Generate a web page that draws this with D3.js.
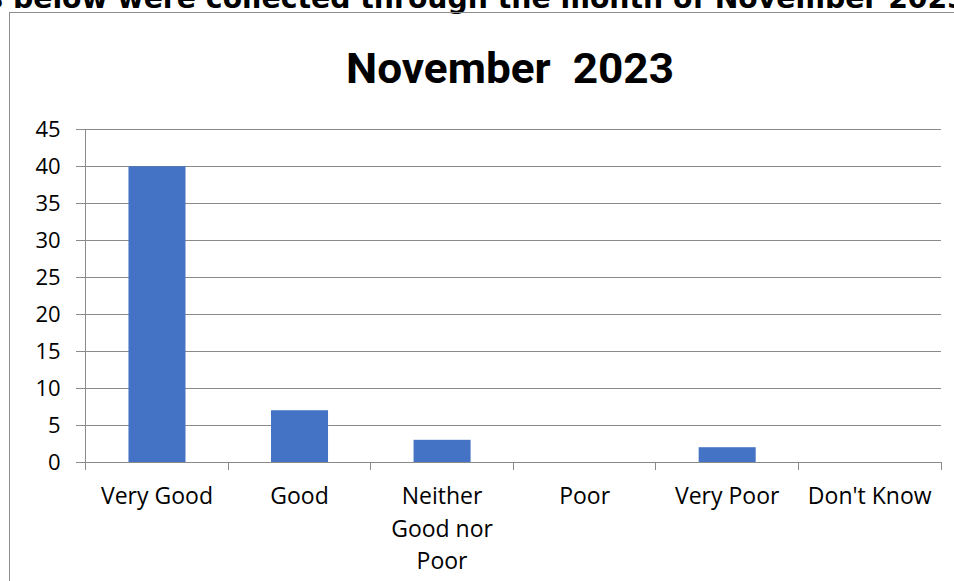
<!DOCTYPE html>
<html>
<head>
<meta charset="utf-8">
<script src="https://cdn.jsdelivr.net/npm/d3@7"></script>
<style>
  body { margin: 0; background: #fff; overflow: hidden; }
</style>
</head>
<body>
<div id="chart-area"></div>
<script>
const WIDTH = 954
const HEIGHT = 581

// data
var categories = ["Very Good", "Good", "Neither Good nor Poor", "Poor", "Very Poor", "Don't Know"]
var responses = [40, 7, 3, 0, 2, 0]
var yTicks = [0, 5, 10, 15, 20, 25, 30, 35, 40, 45]
var chartTitle = "November  2023"
var heading = "Results below were collected through the month of November 2023"

var margin = {"left": 85.7, "right": 13, "top": 129.3, "bottom": 119}
const GRAPH_WIDTH = WIDTH - margin.left - margin.right
const GRAPH_HEIGHT = HEIGHT - margin.top - margin.bottom

var svg = d3.select("#chart-area").append("svg")
    .attr("width", WIDTH)
    .attr("height", HEIGHT)

// page heading, cut off by the top of the picture as in the original
var head = svg.append("text")
    .attr("font-family", "'DejaVu Sans', sans-serif")
    .attr("font-weight", "bold")
    .attr("font-size", 30)
    .attr("fill", "#000")
    .attr("y", 7.5)
    .text(heading)
var bPos = head.node().getStartPositionOfChar(heading.indexOf("below")).x
var nPos = head.node().getStartPositionOfChar(heading.indexOf("November")).x
var k = 702 / (nPos - bPos)
head.attr("font-size", 30 * k).attr("x", 13 - bPos * k)

// chart frame
svg.append("rect")
    .attr("x", 9.5)
    .attr("y", 12.5)
    .attr("width", WIDTH)
    .attr("height", HEIGHT)
    .attr("fill", "none")
    .attr("stroke", "#8c8c8c")
    .attr("stroke-width", 1)

svg.append("text")
    .attr("x", 510)
    .attr("y", 83)
    .attr("text-anchor", "middle")
    .attr("font-family", "Roboto, sans-serif")
    .attr("font-weight", "bold")
    .attr("font-size", 42)
    .style("white-space", "pre")
    .attr("textLength", 328)
    .attr("lengthAdjust", "spacingAndGlyphs")
    .text(chartTitle)

var g = svg.append("g")
    .attr("transform", "translate(" + margin.left + "," + margin.top + ")")

var xScale = d3.scaleBand()
    .domain(categories)
    .range([0, GRAPH_WIDTH])
    .padding(0)

var yScale = d3.scaleLinear()
    .domain([0, 45])
    .range([GRAPH_HEIGHT, 0])

// gridlines + y axis
var yAxisGroup = g.append("g")
    .attr("class", "y axis")
    .call(d3.axisLeft(yScale)
        .tickValues(yTicks)
        .tickSize(-GRAPH_WIDTH)
        .tickPadding(25))
yAxisGroup.select(".domain").remove()
yAxisGroup.selectAll(".tick line")
    .attr("x1", -10)
    .attr("stroke", "#8a8a8a")
    .attr("shape-rendering", "crispEdges")
yAxisGroup.selectAll(".tick text")
    .attr("font-family", "'Open Sans', sans-serif")
    .attr("font-size", 22)
    .attr("fill", "#000")

g.append("line")
    .attr("x1", 0).attr("x2", 0)
    .attr("y1", 0).attr("y2", GRAPH_HEIGHT)
    .attr("stroke", "#8a8a8a")
    .attr("shape-rendering", "crispEdges")

// bars
g.selectAll("rect.bar").data(responses)
    .enter()
    .append("rect")
    .attr("class", "bar")
    .attr("x", function(d, i){ return xScale(categories[i]) + xScale.bandwidth() * 0.3 })
    .attr("width", xScale.bandwidth() * 0.4)
    .attr("y", function(d){ return yScale(d) })
    .attr("height", function(d){ return GRAPH_HEIGHT - yScale(d) })
    .attr("fill", "#4472c4")

// x axis with ticks on band edges
var xAxisGroup = g.append("g")
    .attr("class", "x axis")
    .attr("transform", "translate(0," + GRAPH_HEIGHT + ")")
xAxisGroup.append("line")
    .attr("x1", 0).attr("x2", GRAPH_WIDTH)
    .attr("stroke", "#8a8a8a")
    .attr("shape-rendering", "crispEdges")
var edges = categories.map(function(c){ return xScale(c) }).concat([GRAPH_WIDTH])
xAxisGroup.selectAll("line.edge").data(edges)
    .enter()
    .append("line")
    .attr("class", "edge")
    .attr("x1", function(d){ return d }).attr("x2", function(d){ return d })
    .attr("y1", 0).attr("y2", 8)
    .attr("stroke", "#8a8a8a")
    .attr("shape-rendering", "crispEdges")

// category labels, wrapped like the original
var labelLines = {
    "Neither Good nor Poor": ["Neither", "Good nor", "Poor"]
}
categories.forEach(function(c){
    var lines = labelLines[c] || [c]
    var t = xAxisGroup.append("text")
        .attr("text-anchor", "middle")
        .attr("font-family", "'Open Sans', sans-serif")
        .attr("font-size", 23)
        .attr("fill", "#000")
    lines.forEach(function(line, i){
        t.append("tspan")
            .attr("x", xScale(c) + xScale.bandwidth() / 2)
            .attr("y", 42 + i * 32.5)
            .text(line)
    })
})
</script>
</body>
</html>
